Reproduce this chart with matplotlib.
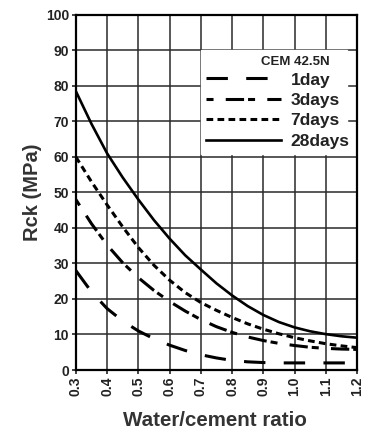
import matplotlib.pyplot as plt

# Data (compressive strength vs water/cement ratio)
wc = [0.30, 0.35, 0.40, 0.45, 0.50, 0.55, 0.60, 0.65, 0.70, 0.75,
      0.80, 0.85, 0.90, 0.95, 1.00, 1.05, 1.10, 1.15, 1.20]
rck_1day = [28, 22, 17.3, 13.8, 11, 8.8, 7, 5.5, 4.3, 3.4,
            2.7, 2.3, 2.1, 2, 2, 2, 2, 2, 2]
rck_3days = [48, 41.2, 35.2, 30.2, 26, 22.4, 19.3, 16.6, 14.2, 12.2,
             10.6, 9.3, 8.3, 7.5, 6.9, 6.4, 6.1, 5.9, 5.8]
rck_7days = [60, 53, 46.5, 40.3, 34.5, 29.5, 25.3, 21.8, 19.0, 16.8,
             14.8, 13.0, 11.5, 10.2, 9.1, 8.2, 7.4, 6.8, 6.3]
rck_28days = [78.5, 69.3, 61, 54.2, 48, 42.2, 37, 32.3, 28.3, 24.4,
              21.0, 18.0, 15.5, 13.5, 12, 10.9, 10.1, 9.5, 9.1]

x_ticks = [0.3, 0.4, 0.5, 0.6, 0.7, 0.8, 0.9, 1.0, 1.1, 1.2]
y_ticks = [0, 10, 20, 30, 40, 50, 60, 70, 80, 90, 100]

plt.rcParams["font.family"] = ["Liberation Sans", "DejaVu Sans"]

fig = plt.figure(figsize=(3.7, 4.3), dpi=100)
ax = fig.add_axes([0.205, 0.1395, 0.76, 0.826])

# |--------|
# | Curves |
# |--------|
lw = 2.2
ax.plot(wc, rck_1day, color="black", lw=lw, dashes=(7, 6), label="1day")
ax.plot(wc, rck_3days, color="black", lw=lw, dashes=(2.3, 4, 6, 1.3), label="3days")
ax.plot(wc, rck_7days, color="black", lw=lw, dashes=(2.2, 1.4), label="7days")
ax.plot(wc, rck_28days, color="black", lw=1.9, label="28days")

# |------|
# | Axes |
# |------|
ax.set_xlim(0.3, 1.2)
ax.set_ylim(0, 100)
ax.set_xticks(x_ticks)
ax.set_xticklabels([f"{v:.1f}" for v in x_ticks], rotation=90)
ax.set_yticks(y_ticks)
ax.grid(True, color="#2a2a2a", lw=1.1)
ax.set_axisbelow(True)
for s in ax.spines.values():
    s.set_linewidth(1.6)

ax.tick_params(labelsize=10, colors="#222222", width=1.2, length=3, pad=2)
for lab in ax.get_xticklabels() + ax.get_yticklabels():
    lab.set_fontweight("bold")

ax.set_xlabel("Water/cement ratio", fontsize=14.8, fontweight="bold", color="#333333")
ax.xaxis.set_label_coords(0.495, -0.116)
ax.set_ylabel("Rck (MPa)", fontsize=14.5, fontweight="bold", color="#333333")
ax.yaxis.set_label_coords(-0.122, 0.5)

# |--------|
# | Legend |
# |--------|
leg = ax.legend(title=" ", loc="upper left", bbox_to_anchor=(0.445, 0.901, 0.519, 0),
                mode="expand", frameon=True, fancybox=False, edgecolor="white",
                framealpha=1, handlelength=4.3, handletextpad=0.55, labelspacing=0.3,
                borderpad=0.3, borderaxespad=0, prop={"weight": "bold", "size": 12.5})
leg.get_title().set_fontsize(9.5)
for t in leg.get_texts():
    t.set_color("#222222")
leg.set_zorder(5)
ax.text(0.779, 0.868, "CEM 42.5N", transform=ax.transAxes, ha="center", va="center",
        fontsize=9.5, fontweight="bold", color="#222222", zorder=6)

fig.savefig("out.png", dpi=100)
